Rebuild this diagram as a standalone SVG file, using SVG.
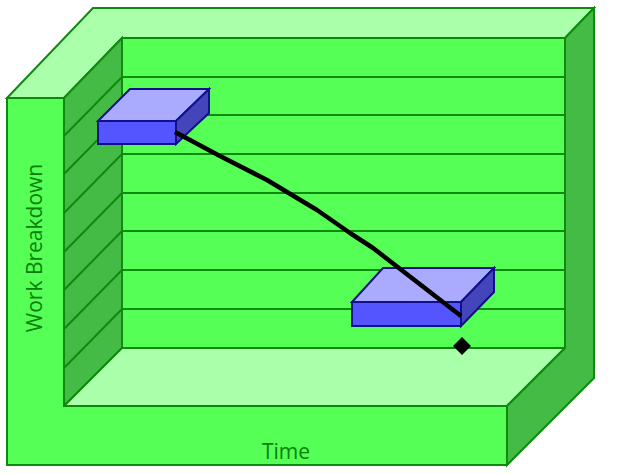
<svg xmlns="http://www.w3.org/2000/svg" width="624" height="474" viewBox="0 0 624 474">
<style>
.g{stroke:#0f8a0f;stroke-width:2;stroke-linejoin:miter}
.front{fill:#55ff55}
.light{fill:#aaffaa}
.dark{fill:#44bb44}
.stripe{stroke:#0f8a0f;stroke-width:2;fill:none}
.b{stroke:#10108a;stroke-width:2}
.bf{fill:#5555ff}
.bt{fill:#aaaaff}
.bs{fill:#4444bb}
.lbl{font-family:"Open Sans","DejaVu Sans",sans-serif;font-size:21px;fill:#0a800a}
</style>
<rect width="624" height="474" fill="#ffffff"/>
<g id="frame">
<polygon class="g light" points="7,98 93,8 594,8 565,38 122,38 64,98"/>
<polygon class="g front" points="122,38 565,38 565,348 122,348"/>
<polygon class="g dark" points="64,98 122,38 122,348 64,406"/>
<polygon class="g light" points="64,406 122,348 565,348 507,406"/>
<polygon class="g dark" points="565,38 594,8 594,378 507,465 507,406 565,348"/>
<polygon class="g front" points="7,98 64,98 64,406 507,406 507,465 7,465"/>
</g>
<g id="stripes">
<path class="stripe" d="M122,77H565M122,115H565M122,154H565M122,193H565M122,231H565M122,270H565M122,309H565"/>
<path class="stripe" d="M64,136L122,77M64,174L122,115M64,213L122,154M64,252L122,193M64,290L122,231M64,329L122,270M64,368L122,309"/>
</g>
<g id="task1">
<polygon class="b bt" points="98,121 130,89 209,89 176,121"/>
<polygon class="b bs" points="176,121 209,89 209,113 176,144"/>
<rect class="b bf" x="98" y="121" width="78" height="23"/>
</g>
<g id="task2">
<polygon class="b bt" points="352,302 383,268 494,268 461,302"/>
<polygon class="b bs" points="461,302 494,268 494,292 461,326"/>
<rect class="b bf" x="352" y="302" width="109" height="24"/>
</g>
<g id="connectors">
<path d="M175,132L218,155L267,180L317,210L350,233L373,248L461,316" fill="none" stroke="#000" stroke-width="4.5" stroke-linejoin="round"/>
</g>
<g id="milestone">
<polygon points="462,337 471,346 462,355 453,346" fill="#000"/>
</g>
<g id="labels">
<text class="lbl" transform="translate(42,248) rotate(-90)" text-anchor="middle" font-size="22">Work Breakdown</text>
<text class="lbl" x="286" y="459" text-anchor="middle">Time</text>
</g>
</svg>
